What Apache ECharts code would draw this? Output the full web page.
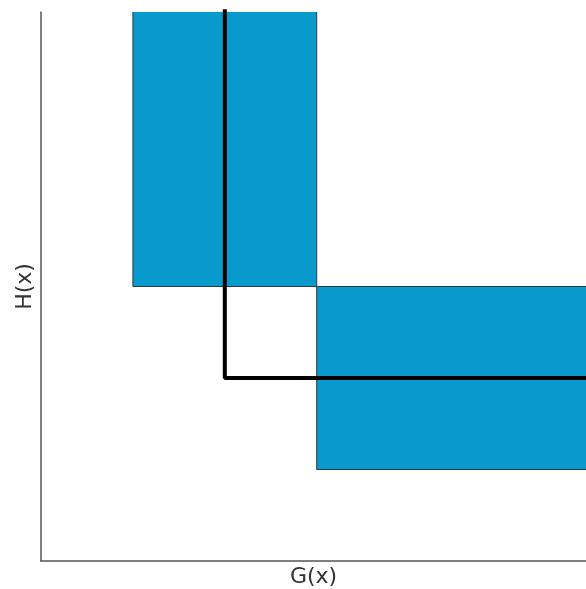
<!DOCTYPE html>
<html>
<head>
<meta charset="utf-8">
<script src="https://cdn.jsdelivr.net/npm/echarts@6/dist/echarts.min.js"></script>
<style>html,body{margin:0;padding:0;background:#fff}#c{width:586px;height:589px}</style>
</head>
<body>
<div id="c"></div>
<script>
// rectangles: [xStart, xEnd, yStart, yEnd]
const rectX0 = [1, 3];
const rectX1 = [3, 7];
const rectY0 = [3, 1];
const rectY1 = [7, 3];
// step line
const lineX = [2, 2, 7];
const lineY = [6.03, 2, 2];

const rects = rectX0.map((v, i) => [v, rectX1[i], rectY0[i], rectY1[i]]);
const lineData = lineX.map((v, i) => [v, lineY[i]]);

const chart = echarts.init(document.getElementById('c'), null, {renderer: 'canvas'});
chart.setOption({
  animation: false,
  grid: {left: 41, top: 12, right: 0, bottom: 28, containLabel: false, outerBoundsMode: 'none'},
  xAxis: {
    type: 'value', min: 0, max: 5.93,
    name: 'G(x)', nameLocation: 'middle', nameGap: 5,
    nameTextStyle: {fontFamily: 'DejaVu Sans', fontSize: 22, color: '#333'},
    axisLine: {show: true, lineStyle: {color: '#555', width: 1.5}},
    axisTick: {show: false}, axisLabel: {show: false}, splitLine: {show: false}
  },
  yAxis: {
    type: 'value', min: 0, max: 6,
    name: 'H(x)', nameLocation: 'middle', nameGap: 5,
    nameTextStyle: {fontFamily: 'DejaVu Sans', fontSize: 22, color: '#333'},
    axisLine: {show: true, lineStyle: {color: '#555', width: 1.5}},
    axisTick: {show: false}, axisLabel: {show: false}, splitLine: {show: false}
  },
  series: [
    {
      type: 'custom',
      clip: true,
      data: rects,
      renderItem: function (params, api) {
        const p0 = api.coord([api.value(0), api.value(3)]);
        const p1 = api.coord([api.value(1), api.value(2)]);
        return {
          type: 'rect',
          shape: {x: p0[0], y: p0[1], width: p1[0] - p0[0], height: p1[1] - p0[1]},
          style: {fill: '#089ACD', stroke: '#2a3a44', lineWidth: 1}
        };
      }
    },
    {
      type: 'line',
      data: lineData,
      clip: false,
      symbol: 'none',
      lineStyle: {color: '#000', width: 4},
      z: 5
    }
  ]
});
</script>
</body>
</html>
